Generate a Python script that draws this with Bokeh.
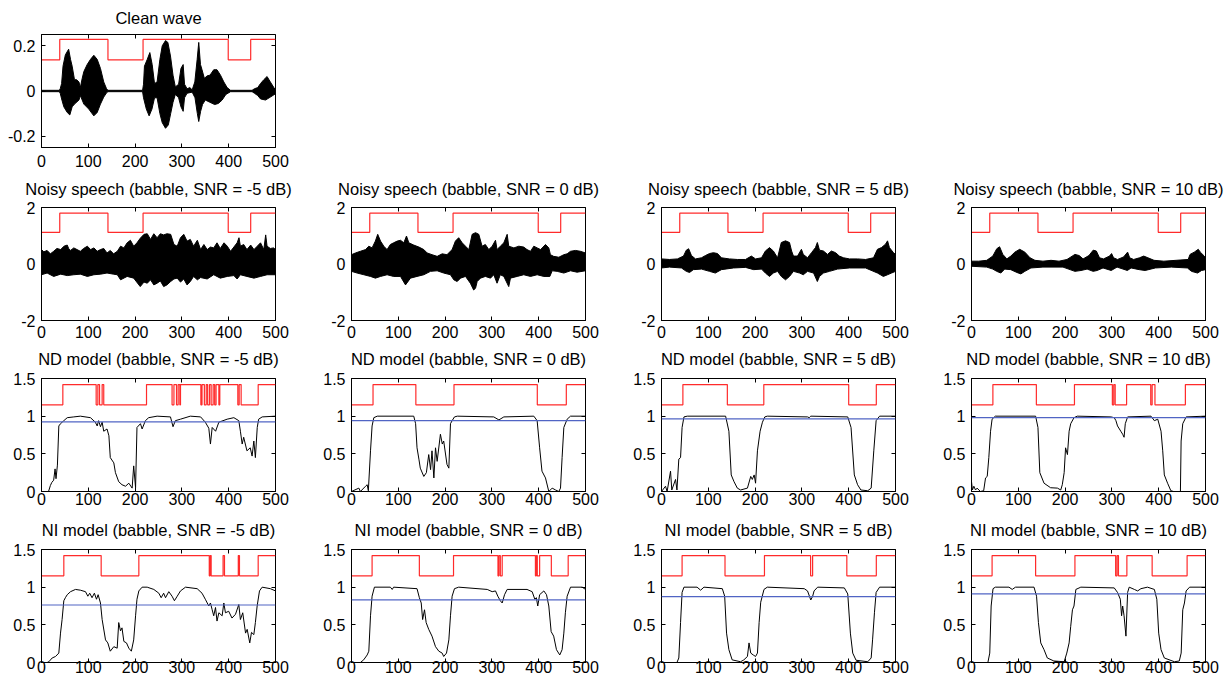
from bokeh.plotting import figure
from bokeh.layouts import column, row
from bokeh.models import LinearAxis, FixedTicker, CustomJSTickFormatter, Span
from bokeh.core.properties import value
from bokeh.embed import file_html
from bokeh.resources import INLINE

FONT = "Liberation Sans"
TITLE_SIZE = "16.5px"
TICK_SIZE = "16px"
RED = "#ff2b2b"
BLUE = "#5064c4"

# ---------------- axes / ticks ----------------
X_TICKS = [0, 100, 200, 300, 400, 500]
CLEAN_TICKS = [-0.2, 0, 0.2]
NOISY_TICKS = [-2, 0, 2]
MODEL_TICKS = [0, 0.5, 1, 1.5]
SNR = ["-5", "0", "5", "10"]

# ---------------- VAD reference / decisions (frame indices where state toggles; start = 0) ----
CLEAN_VAD = [39, 142, 217, 399, 447]
CLEAN_VAD_LEVELS = (0.138, 0.228)
NOISY_VAD_LEVELS = (1.12, 1.8)
MODEL_VAD_LEVELS = (1.15, 1.42)

ND_VAD_M5 = [45.6, 116.8, 120.4, 124, 129.6, 133, 224.4, 279, 283, 288.5, 292, 295.6, 297,
             340.5, 343, 348, 352, 355, 359, 362.5, 366.8, 370, 373, 379, 381, 419.5, 422.4, 426.6, 463]
ND_VAD_0 = [46, 137.5, 219, 397, 459]
ND_VAD_5 = [45.7, 140.7, 218.6, 400, 459]
ND_VAD_10 = [45.7, 138.6, 220, 301, 304, 307, 331.4, 383, 386, 392, 457]
NI_VAD_M5 = [47.7, 127.5, 208, 358.5, 360.5, 362.5, 388, 391, 420.5, 423, 463]
NI_VAD_0 = [44, 145, 218, 313, 315, 318, 322, 393, 395, 397, 402, 427, 463]
NI_VAD_5 = [44, 135.7, 220, 318.6, 322.9, 396, 459]
NI_VAD_10 = [44, 137, 221, 308, 311, 314, 332, 386, 460.7]

# ---------------- thresholds ----------------
ND_THR = [0.924, 0.94, 0.963, 0.98]
NI_THR = [0.763, 0.83, 0.875, 0.91]

# ---------------- clean wave envelope ----------------
CLEAN_UP = [(0, 0.003), (38, 0.003), (40, 0.01), (43, 0.033), (46, 0.11), (51, 0.16), (58, 0.185), (62, 0.14),
            (65.5, 0.11), (70.5, 0.05), (75, 0.05), (80, 0.04), (83, 0.015), (87, 0.056), (90.5, 0.086),
            (97.6, 0.117), (104.7, 0.14), (111.8, 0.158), (119, 0.14), (126, 0.1), (133, 0.04), (139, 0.01),
            (142, 0.003), (216, 0.003), (218, 0.03), (220, 0.11), (226, 0.14), (231.5, 0.17), (236.5, 0.117),
            (241.5, 0.033), (247, 0.04), (253, 0.14), (258, 0.2), (265, 0.223), (270, 0.215), (275.6, 0.155),
            (281, 0.07), (286, 0.018), (293, 0.03), (298, 0.1), (302.7, 0.117), (305.6, 0.03), (311, 0.01),
            (317, 0.015), (322, 0.005), (327.6, 0.04), (332.6, 0.14), (336, 0.215), (339.7, 0.117),
            (343, 0.094), (348, 0.056), (354, 0.067), (360, 0.07), (368, 0.094), (375, 0.094), (382.5, 0.07),
            (389.6, 0.04), (396.7, 0.015), (404, 0.003), (450, 0.003), (455, 0.01), (462, 0.015), (468, 0.033),
            (475, 0.05), (482, 0.064), (489, 0.04), (496.5, 0.015), (500, 0.006)]
CLEAN_LO = [(0, -0.003), (38, -0.003), (40, -0.01), (43, -0.035), (47.7, -0.07), (55, -0.095), (60.5, -0.106),
            (65.5, -0.07), (70.5, -0.058), (80, -0.04), (83, -0.02), (90.5, -0.058), (101, -0.08),
            (111.8, -0.11), (119, -0.095), (126, -0.058), (133, -0.027), (139, -0.008), (142, -0.003),
            (216, -0.003), (218, -0.03), (224, -0.08), (230, -0.11), (236, -0.08), (241.5, -0.03), (247, -0.03),
            (253, -0.1), (258, -0.14), (265, -0.165), (271, -0.15), (276, -0.1), (281, -0.05), (286, -0.015),
            (293, -0.03), (298, -0.07), (302.7, -0.09), (305.6, -0.03), (311, -0.01), (322, -0.005),
            (328, -0.03), (333, -0.1), (336, -0.135), (340, -0.09), (344, -0.06), (350, -0.04), (360, -0.05),
            (370, -0.06), (378, -0.055), (386, -0.04), (394, -0.015), (404, -0.003), (450, -0.003),
            (455, -0.01), (462, -0.02), (468, -0.035), (478.6, -0.04), (489, -0.027), (500, -0.012)]

# ---------------- noisy speech envelopes ----------------
NOISY_M5_UP_X = [0, 5, 12, 19, 26, 33, 41, 48, 55, 58, 62, 69, 76, 83, 90, 98, 105, 112, 119, 126, 133, 140, 147,
                 154, 162, 169, 176, 183, 190, 197, 204, 211, 219, 226, 233, 240, 247, 254, 261, 268, 276, 283,
                 290, 297, 304, 311, 318, 325, 333, 340, 347, 354, 361, 368, 375, 382, 390, 397, 404, 411, 418,
                 422, 425, 432, 439, 447, 454, 461, 468, 475, 479, 482, 489, 496, 500]
NOISY_M5_UP_Y = [0.51, 0.43, 0.48, 0.36, 0.45, 0.55, 0.51, 0.63, 0.67, 0.55, 0.48, 0.57, 0.51, 0.45, 0.55, 0.63,
                 0.51, 0.57, 0.45, 0.51, 0.55, 0.39, 0.48, 0.36, 0.45, 0.63, 0.57, 0.75, 0.84, 0.63, 0.75, 0.91,
                 1.05, 1.07, 0.87, 1.07, 0.93, 1.07, 1.03, 1.07, 1.05, 0.69, 0.63, 0.93, 1.05, 0.81, 0.87, 0.63,
                 0.84, 0.51, 0.69, 0.51, 0.6, 0.57, 0.75, 0.55, 0.75, 0.63, 0.45, 0.6, 0.75, 0.93, 0.63, 0.69,
                 0.51, 0.67, 0.51, 0.63, 0.75, 0.51, 1.03, 0.63, 0.55, 0.57, 0.51]
NOISY_M5_LO_X = [0, 12, 26, 41, 55, 69, 83, 98, 112, 126, 140, 154, 162, 169, 183, 197, 211, 219, 226, 233, 240,
                 247, 254, 261, 268, 276, 283, 290, 297, 304, 311, 318, 325, 333, 340, 354, 368, 382, 397, 411,
                 418, 425, 439, 454, 468, 482, 500]
NOISY_M5_LO_Y = [-0.38, -0.32, -0.44, -0.36, -0.41, -0.38, -0.36, -0.44, -0.38, -0.36, -0.32, -0.36, -0.38,
                 -0.56, -0.44, -0.5, -0.8, -0.64, -0.68, -0.56, -0.74, -0.68, -0.6, -0.8, -0.74, -0.62, -0.53,
                 -0.5, -0.64, -0.53, -0.74, -0.62, -0.44, -0.56, -0.48, -0.53, -0.38, -0.5, -0.44, -0.41, -0.53,
                 -0.38, -0.44, -0.5, -0.44, -0.38, -0.38]

NOISY_0_UP_X = [0, 8.5, 19, 30, 37, 44, 51, 56, 62, 69, 76, 83, 90, 97.6, 104.7, 111.8, 117.5, 122.5, 133, 144,
                154.5, 161.7, 172, 183, 193.7, 204, 215, 222, 229, 236.5, 243.6, 250.7, 257.8, 265, 272, 279,
                286, 293.4, 300.6, 307.7, 311, 318, 325.5, 332.6, 336, 347, 357.5, 368, 375, 382.5, 389.6,
                396.7, 404, 414.5, 421.6, 425, 432, 443, 453.7, 460.8, 468, 478.6, 489, 500]
NOISY_0_UP_Y = [0.33, 0.39, 0.45, 0.51, 0.63, 0.57, 0.81, 1.05, 0.81, 0.63, 0.51, 0.69, 0.75, 0.81, 0.84, 0.75,
                0.99, 0.75, 0.67, 0.6, 0.51, 0.39, 0.33, 0.27, 0.36, 0.33, 0.51, 0.81, 0.93, 0.75, 0.63, 0.51,
                1.05, 1.11, 1.05, 0.63, 0.69, 0.51, 0.63, 0.84, 0.51, 0.63, 0.75, 1.05, 0.63, 0.57, 0.63, 0.6,
                0.51, 0.45, 0.63, 0.57, 0.51, 0.69, 0.57, 0.33, 0.27, 0.24, 0.33, 0.36, 0.45, 0.48, 0.45, 0.39]
NOISY_0_LO_X = [0, 12, 26.4, 40.6, 51, 62, 76, 90, 104.7, 115.4, 126, 140, 154.5, 168.8, 183, 197, 211.5, 218.6,
                225.8, 233, 243.6, 254, 261, 265, 268.5, 275.6, 286, 297, 304, 311, 318, 325.5, 336, 339.7, 354,
                368, 382.5, 396.7, 411, 423.8, 428.8, 439.5, 453.7, 468, 482, 500]
NOISY_0_LO_Y = [-0.26, -0.32, -0.38, -0.44, -0.5, -0.44, -0.38, -0.44, -0.44, -0.74, -0.5, -0.44, -0.38, -0.26,
                -0.24, -0.32, -0.38, -0.56, -0.62, -0.5, -0.44, -0.68, -0.92, -0.86, -0.62, -0.5, -0.44, -0.5,
                -0.38, -0.68, -0.38, -0.44, -0.8, -0.5, -0.44, -0.38, -0.44, -0.38, -0.44, -0.44, -0.24, -0.26,
                -0.32, -0.24, -0.29, -0.24]

NOISY_5_UP_X = [0, 17, 34, 47, 53, 58, 64, 72.6, 85.5, 94, 102.6, 111, 119.7, 128, 145, 162, 179.5, 192, 201,
                213.7, 222, 230.8, 239, 248, 256, 265, 273.5, 278, 282, 290.6, 299, 303, 312, 320.5, 329, 333,
                337.6, 346, 354.7, 363, 372, 380, 389, 401.7, 419, 436, 453, 461.5, 470, 478.6, 483, 487, 495.7,
                500]
NOISY_5_UP_Y = [0.18, 0.16, 0.18, 0.28, 0.49, 0.54, 0.3, 0.18, 0.22, 0.3, 0.37, 0.4, 0.37, 0.22, 0.18, 0.16,
                0.16, 0.28, 0.18, 0.22, 0.46, 0.58, 0.46, 0.22, 0.76, 0.82, 0.76, 0.46, 0.28, 0.28, 0.52, 0.34,
                0.22, 0.4, 0.58, 0.76, 0.49, 0.46, 0.34, 0.46, 0.4, 0.28, 0.22, 0.18, 0.18, 0.16, 0.22, 0.52,
                0.58, 0.7, 0.82, 0.58, 0.4, 0.34]
NOISY_5_LO_X = [0, 17, 42.7, 53, 60, 68, 85.5, 102.6, 115, 128, 154, 179.5, 197, 213.7, 222, 230.8, 239, 248,
                256, 265, 273.5, 282, 295, 303, 312, 325, 333, 337.6, 346, 359, 376, 401.7, 436, 461.5, 474, 483,
                491.5, 500]
NOISY_5_LO_Y = [-0.14, -0.11, -0.14, -0.26, -0.3, -0.2, -0.18, -0.26, -0.32, -0.2, -0.14, -0.12, -0.2, -0.18,
                -0.32, -0.44, -0.32, -0.26, -0.44, -0.56, -0.44, -0.26, -0.32, -0.38, -0.26, -0.32, -0.62, -0.44,
                -0.32, -0.26, -0.18, -0.14, -0.14, -0.32, -0.44, -0.38, -0.32, -0.26]

NOISY_10_UP_X = [0, 15.4, 32.6, 45.5, 54, 60, 66.9, 75.5, 84, 92.6, 103, 114, 125, 135.5, 152.7, 170, 187, 204,
                 221, 230, 238.4, 251, 260, 266.7, 273.6, 282, 295, 299.3, 303.6, 312, 325, 333.6, 338, 346.5,
                 359, 368, 377, 390, 411, 437, 463, 467, 476, 484.6, 488.9, 497.4, 500]
NOISY_10_UP_Y = [0.1, 0.1, 0.13, 0.28, 0.54, 0.61, 0.34, 0.18, 0.28, 0.42, 0.52, 0.42, 0.22, 0.13, 0.1, 0.13,
                 0.1, 0.16, 0.34, 0.3, 0.18, 0.3, 0.49, 0.46, 0.22, 0.18, 0.28, 0.37, 0.22, 0.16, 0.25, 0.42,
                 0.22, 0.16, 0.22, 0.28, 0.22, 0.13, 0.1, 0.13, 0.16, 0.34, 0.42, 0.52, 0.42, 0.28, 0.22]
NOISY_10_LO_X = [0, 32.6, 45.5, 54, 62.6, 71, 84, 97, 105.5, 114, 127, 152.7, 195.5, 221, 234, 247, 260, 268.4,
                 281, 298.5, 311, 333, 341, 358.5, 371, 392.8, 427, 461.4, 470, 483, 491.6, 500]
NOISY_10_LO_Y = [-0.08, -0.11, -0.18, -0.26, -0.32, -0.18, -0.2, -0.3, -0.35, -0.26, -0.14, -0.11, -0.11, -0.26,
                 -0.23, -0.18, -0.26, -0.23, -0.14, -0.23, -0.11, -0.23, -0.14, -0.2, -0.23, -0.14, -0.11, -0.14,
                 -0.26, -0.32, -0.23, -0.2]

# ---------------- speech presence probability curves ----------------
ND_M5 = [(0, 0), (15, 0), (19, 0.08), (22, 0.12), (26, 0.15), (29, 0.3), (31, 0.17), (34, 0.35), (37, 0.87),
         (40.6, 0.9), (47.7, 0.94), (55, 0.98), (69, 0.99), (83, 1.0), (104.7, 0.98), (115, 0.92), (119, 0.87),
         (122, 0.94), (126, 0.86), (129.6, 0.92), (133, 0.8), (140, 0.83), (144, 0.74), (147, 0.45),
         (154.5, 0.38), (158, 0.25), (165, 0.13), (172, 0.09), (179.5, 0.07), (186.6, 0.11), (193.7, 0.045),
         (197, 0.34), (201, 0.05), (204, 0.85), (211.5, 0.9), (215, 0.83), (222, 0.94), (229, 0.98), (247, 1.0),
         (275.6, 0.99), (281, 0.86), (286, 0.94), (297, 0.96), (318, 1.0), (340, 0.99), (350, 0.92),
         (357.5, 0.84), (361, 0.63), (364.7, 0.85), (372, 0.8), (379, 0.92), (396.7, 0.96), (411, 0.98),
         (421.6, 0.94), (425, 0.8), (428.8, 0.63), (432, 0.72), (439, 0.54), (446, 0.58), (450, 0.47),
         (453.7, 0.67), (457, 0.45), (461, 0.85), (464, 0.96), (471.5, 0.99), (500, 1.0)]
ND_0 = [(0, 0), (15.7, 0.045), (19, 0), (30, 0.07), (33.5, 0.09), (36, 0.01), (40.6, 0.54), (44, 0.87),
        (47.7, 0.98), (55, 1.0), (133, 1.0), (137, 0.9), (140, 0.58), (144, 0.43), (147, 0.31), (154.5, 0.2),
        (160, 0.25), (165, 0.49), (169, 0.29), (172, 0.54), (176, 0.18), (179.5, 0.58), (183, 0.4), (190, 0.76),
        (194, 0.63), (197, 0.67), (204, 0.36), (208, 0.31), (211.5, 0.9), (215, 0.94), (220, 0.99), (226, 1.0),
        (304, 0.99), (315, 0.95), (325.5, 0.99), (389.6, 1.0), (396.7, 0.94), (402, 0.58), (407, 0.27),
        (414.5, 0.18), (421.6, 0), (428.8, 0.045), (436, 0.02), (443, 0), (446.6, 0.045), (450, 0.45),
        (453.7, 0.85), (460.8, 0.96), (468, 1.0), (500, 1.0)]
ND_5 = [(0, 0), (8.6, 0.07), (12, 0), (19.3, 0.27), (22, 0.02), (30, 0.16), (33, 0.02), (37, 0.43), (40.7, 0.45),
        (44, 0.85), (48, 0.99), (55, 1.0), (137, 1.0), (144, 0.8), (149, 0.22), (155, 0.13), (162, 0.045),
        (169, 0.02), (183.6, 0.045), (190.7, 0.2), (194, 0.16), (198, 0.22), (201, 0.11), (205, 0.54),
        (210.7, 0.8), (215.7, 0.92), (220.7, 0.99), (226, 1.0), (312, 0.99), (315.7, 0.98), (319, 1.0),
        (398, 0.99), (405, 0.85), (412, 0.22), (419, 0.09), (426, 0.02), (440.7, 0.01), (448, 0.045),
        (453.6, 0.54), (458.6, 0.94), (466, 1.0), (500, 1.0)]
ND_10 = [(0, 0.13), (2, 0.02), (5, 0.07), (8.6, 0.02), (12, 0.045), (19, 0), (26, 0.01), (30, 0.18), (33.6, 0.2),
         (37, 0.45), (40.7, 0.8), (44, 0.96), (51, 1.0), (137, 1.0), (142, 0.85), (146, 0.25), (155, 0.11),
         (169, 0.05), (183.6, 0.045), (190.7, 0.02), (194, 0.09), (198, 0.25), (201, 0.58), (205, 0.49),
         (208.6, 0.8), (212, 0.9), (219, 0.98), (226, 1.0), (298, 0.99), (305, 0.98), (308.6, 0.94), (312, 0.87),
         (319, 0.8), (323, 0.76), (326, 0.72), (328.6, 0.9), (333.6, 0.99), (383.6, 1.0), (390.7, 0.94),
         (398, 0.96), (405, 0.8), (408.6, 0.54), (412, 0.22), (419, 0.11), (426, 0.01), (432, 0), (446.4, 0),
         (447.9, 0.67), (451.4, 0.9), (458.6, 0.99), (500, 1.0)]
NI_M5 = [(0, 0), (12, 0), (15.7, 0.01), (22.8, 0.06), (30, 0.08), (37, 0.125), (40.6, 0.39), (44, 0.57),
         (47.7, 0.82), (51, 0.86), (55, 0.9), (62, 0.94), (72.6, 0.97), (83, 0.96), (94, 0.94), (99, 0.88),
         (103, 0.92), (108, 0.86), (113, 0.92), (117.5, 0.84), (121, 0.9), (126, 0.79), (129.6, 0.57),
         (136.8, 0.3), (141.7, 0.26), (147, 0.15), (154.5, 0.21), (161.7, 0.19), (165, 0.53), (168.8, 0.42),
         (172, 0.46), (176, 0.28), (181.6, 0.26), (186.6, 0.19), (192, 0.15), (197, 0.3), (201, 0.62),
         (204, 0.84), (208, 0.95), (215, 1.0), (225.8, 1.0), (240, 0.97), (250.7, 0.92), (255.7, 0.86),
         (261, 0.92), (265, 0.86), (272, 0.94), (279, 0.88), (284, 0.82), (290, 0.88), (297, 0.95),
         (307.7, 1.0), (332.6, 0.98), (343, 0.92), (350, 0.84), (357.5, 0.75), (361, 0.79), (364.7, 0.7),
         (368, 0.62), (371.8, 0.73), (375, 0.55), (379, 0.66), (386, 0.62), (389.6, 0.79), (393, 0.66),
         (400, 0.68), (407, 0.59), (414.5, 0.64), (421.6, 0.77), (425, 0.57), (430, 0.66), (436, 0.39),
         (439.5, 0.44), (445, 0.26), (448.7, 0.4), (453.7, 0.37), (457, 0.53), (460.8, 0.75), (465.8, 0.95),
         (471.5, 1.0), (489, 0.98), (500, 0.95)]
NI_0 = [(0, 0), (19, 0), (26, 0.035), (33.5, 0.1), (37, 0.15), (40.6, 0.62), (44, 0.88), (49, 1.0), (83, 1.0),
        (87, 0.97), (90, 1.0), (140, 0.98), (145, 0.86), (149, 0.79), (152, 0.57), (156, 0.7), (159.5, 0.53),
        (165, 0.44), (172, 0.35), (179.5, 0.21), (186.6, 0.15), (193.7, 0.125), (197, 0.08), (203, 0.125),
        (208, 0.3), (211.5, 0.62), (215, 0.88), (220, 0.98), (229, 1.0), (290, 0.97), (300.6, 0.94),
        (307.7, 0.95), (312.7, 0.88), (318, 0.82), (322, 0.79), (327, 0.9), (332.6, 0.97), (375, 0.97),
        (386, 0.94), (391.7, 0.84), (395, 0.86), (398, 0.75), (402, 0.9), (411, 0.95), (416.7, 0.9),
        (421.6, 0.75), (426.6, 0.41), (432, 0.35), (438, 0.17), (445, 0.1), (450, 0.17), (453.7, 0.39),
        (457, 0.66), (460.8, 0.88), (468, 1.0), (493, 1.0), (500, 0.97)]
NI_5 = [(0, 0), (33, 0), (37, 0.06), (40.7, 0.53), (44, 0.93), (48, 1.0), (76, 1.0), (83.6, 0.96), (90.7, 1.0),
        (130, 0.98), (135, 0.88), (139, 0.39), (144, 0.17), (151, 0.035), (169, 0.01), (176, 0.035),
        (183.6, 0.08), (187, 0.26), (190.7, 0.125), (196, 0.1), (201, 0.08), (205, 0.125), (208.6, 0.53),
        (212, 0.8), (219, 0.97), (226, 1.0), (305, 0.98), (312, 0.95), (319, 0.83), (323, 0.88), (326, 0.95),
        (333.6, 1.0), (390.7, 0.99), (398, 0.91), (403.6, 0.39), (408.6, 0.125), (415.7, 0.03), (440.7, 0.01),
        (448, 0.06), (451, 0.3), (455, 0.66), (458.6, 0.93), (466, 1.0), (500, 1.0)]
NI_10 = [(0, 0), (35, 0), (39, 0.125), (42, 0.75), (46, 0.98), (51, 1.0), (80, 1.0), (87, 0.97), (94, 1.0),
         (133.6, 1.0), (139, 0.88), (143, 0.53), (148, 0.26), (155, 0.17), (162, 0.06), (176, 0.02), (198, 0.01),
         (203.6, 0.125), (208.6, 0.26), (212, 0.48), (215.7, 0.7), (219, 0.75), (223, 0.97), (233.6, 1.0),
         (305, 0.99), (312, 0.93), (318, 0.84), (320.7, 0.62), (323, 0.75), (326, 0.62), (330, 0.35),
         (333.6, 0.93), (337, 1.0), (348, 0.97), (355, 0.95), (362, 0.98), (376, 1.0), (390.7, 0.97),
         (396, 0.84), (400, 0.39), (405, 0.17), (412, 0.06), (433.6, 0.01), (444, 0.02), (448, 0.125),
         (451.4, 0.7), (455, 0.79), (458.6, 0.95), (466, 1.0), (500, 1.0)]

FMT = "return String(Math.round(tick * 1000) / 1000);"

# layout (pixels)
FRAME_W = 234
COL_LEFT = [41, 36, 36, 36]
COL_RIGHT = [40, 40, 40, 24]
STRIP_H = 28                          # title strip height above each row
FIG_TOP = 6                           # remaining top border of each plot
ROW_BOTTOM = [26, 24, 24, 20]
ROW_XSTANDOFF = [7, 5, 1, -2]
ROW_TITLE_MID = [16.8, 19, 19.7, 19.2]   # title text middle above the plot frame
ROW_FRAME_H = [113, 113, 113, 113]


def vad_xy(edges, levels, x0=0, x1=500):
    lo, hi = levels
    xs, ys, state = [x0], [lo], 0
    for e in edges:
        xs.append(e); ys.append(hi if state else lo)
        state ^= 1
        xs.append(e); ys.append(hi if state else lo)
    xs.append(x1); ys.append(hi if state else lo)
    return xs, ys


def style_axis(ax, ticks, standoff):
    ax.ticker = FixedTicker(ticks=ticks)
    ax.formatter = CustomJSTickFormatter(code=FMT)
    ax.major_tick_in = 4
    ax.major_tick_out = 0
    ax.minor_tick_in = 0
    ax.minor_tick_out = 0
    ax.axis_line_color = "black"
    ax.major_tick_line_color = "black"
    ax.major_label_text_font = FONT
    ax.major_label_text_font_size = TICK_SIZE
    ax.major_label_text_color = "black"
    ax.major_label_standoff = standoff


def hidden_axis(ticks):
    ax = LinearAxis(ticker=FixedTicker(ticks=ticks))
    ax.major_tick_in = 4
    ax.major_tick_out = 0
    ax.minor_tick_in = 0
    ax.minor_tick_out = 0
    ax.axis_line_color = None
    ax.major_tick_line_color = "black"
    ax.major_label_text_color = None
    ax.major_label_text_font_size = "1px"
    ax.major_label_standoff = 0
    return ax


def title_strip(title, col, r):
    w = COL_LEFT[col] + FRAME_W + COL_RIGHT[col]
    s = figure(frame_width=w, frame_height=STRIP_H, x_range=(0, w), y_range=(0, STRIP_H),
               output_backend="svg", toolbar_location=None, x_axis_location=None, y_axis_location=None,
               min_border=0)
    s.grid.visible = False
    s.outline_line_color = None
    s.background_fill_color = "white"
    s.border_fill_color = "white"
    s.text(x=[COL_LEFT[col] + FRAME_W / 2], y=[ROW_TITLE_MID[r] - FIG_TOP], text=[title],
           text_align="center", text_baseline="middle", text_font=value(FONT),
           text_font_size=value(TITLE_SIZE), text_color="black")
    return s


def make_fig(y_range, y_ticks, col, r):
    p = figure(frame_width=FRAME_W, frame_height=ROW_FRAME_H[r], x_range=(0, 500), y_range=y_range,
               output_backend="svg", toolbar_location=None,
               min_border_left=COL_LEFT[col], min_border_right=COL_RIGHT[col],
               min_border_top=FIG_TOP, min_border_bottom=ROW_BOTTOM[r])
    p.grid.visible = False
    p.outline_line_color = "black"
    p.outline_line_alpha = 1.0
    p.outline_line_width = 1
    p.background_fill_color = "white"
    p.border_fill_color = "white"
    style_axis(p.xaxis[0], X_TICKS, ROW_XSTANDOFF[r])
    style_axis(p.yaxis[0], y_ticks, 6)
    p.add_layout(hidden_axis(X_TICKS), "above")
    p.add_layout(hidden_axis(y_ticks), "right")
    return p


def draw_wave(p, ux, uy, lx, ly):
    xs = list(ux) + list(reversed(lx))
    ys = list(uy) + list(reversed(ly))
    p.patch(xs, ys, fill_color="black", line_color="black", line_width=1)


def unzip(pairs):
    return [a for a, _ in pairs], [b for _, b in pairs]


# Row 1: clean
clean_title = title_strip("Clean wave", 0, 0)
clean = make_fig((-0.25, 0.25), CLEAN_TICKS, 0, 0)
cux, cuy = unzip(CLEAN_UP)
clx, cly = unzip(CLEAN_LO)
draw_wave(clean, cux, cuy, clx, cly)
vx, vy = vad_xy(CLEAN_VAD, CLEAN_VAD_LEVELS)
clean.line(vx, vy, line_color=RED, line_width=1.2)

# Row 2: noisy
noisy_data = [(NOISY_M5_UP_X, NOISY_M5_UP_Y, NOISY_M5_LO_X, NOISY_M5_LO_Y),
              (NOISY_0_UP_X, NOISY_0_UP_Y, NOISY_0_LO_X, NOISY_0_LO_Y),
              (NOISY_5_UP_X, NOISY_5_UP_Y, NOISY_5_LO_X, NOISY_5_LO_Y),
              (NOISY_10_UP_X, NOISY_10_UP_Y, NOISY_10_LO_X, NOISY_10_LO_Y)]
noisy_titles, noisy_figs = [], []
for i, (ux, uy, lx, ly) in enumerate(noisy_data):
    noisy_titles.append(title_strip(f"Noisy speech (babble, SNR = {SNR[i]} dB)", i, 1))
    p = make_fig((-2, 2), NOISY_TICKS, i, 1)
    draw_wave(p, ux, uy, lx, ly)
    vx, vy = vad_xy(CLEAN_VAD, NOISY_VAD_LEVELS)
    p.line(vx, vy, line_color=RED, line_width=1.2)
    noisy_figs.append(p)


def model_row(name, curves, vads, thrs, r):
    titles, figs = [], []
    for i in range(4):
        titles.append(title_strip(f"{name} model (babble, SNR = {SNR[i]} dB)", i, r))
        p = make_fig((0, 1.5), MODEL_TICKS, i, r)
        cx, cy = unzip(curves[i])
        p.line(cx, cy, line_color="black", line_width=1)
        p.add_layout(Span(location=thrs[i], dimension="width", line_color=BLUE, line_width=1.2))
        vx, vy = vad_xy(vads[i], MODEL_VAD_LEVELS)
        p.line(vx, vy, line_color=RED, line_width=1.2)
        figs.append(p)
    return titles, figs


nd_titles, nd_figs = model_row("ND", [ND_M5, ND_0, ND_5, ND_10],
                               [ND_VAD_M5, ND_VAD_0, ND_VAD_5, ND_VAD_10], ND_THR, 2)
ni_titles, ni_figs = model_row("NI", [NI_M5, NI_0, NI_5, NI_10],
                               [NI_VAD_M5, NI_VAD_0, NI_VAD_5, NI_VAD_10], NI_THR, 3)

layout = column(row(clean_title), row(clean),
                row(*noisy_titles), row(*noisy_figs),
                row(*nd_titles), row(*nd_figs),
                row(*ni_titles), row(*ni_figs))
open("out.html", "w").write(file_html(layout, INLINE))
